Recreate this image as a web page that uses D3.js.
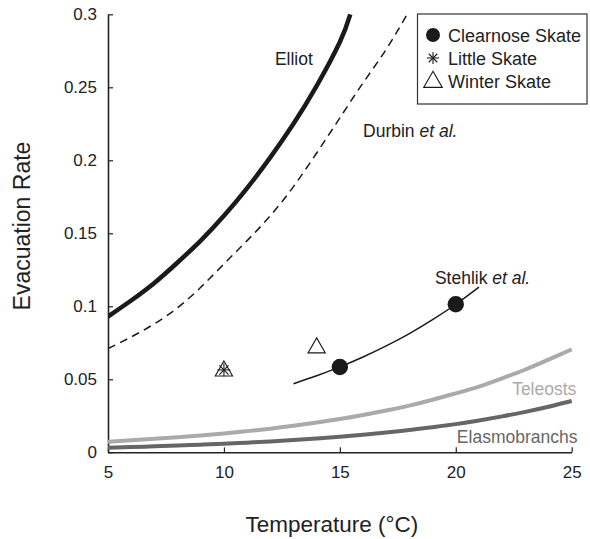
<!DOCTYPE html>
<html>
<head>
<meta charset="utf-8">
<script src="https://cdn.jsdelivr.net/npm/d3@7"></script>
<style>
  body { margin: 0; background: #fff; }
  svg text { font-family: "Liberation Sans", Arial, sans-serif; fill: #222; }
</style>
</head>
<body>
<div id="chart"></div>
<script>
// model curves, values
const elliotT = [5, 6, 7, 8, 9, 10, 11, 12, 13, 14, 15, 15.45];
const elliotR = [0.093, 0.104, 0.116, 0.130, 0.145, 0.162, 0.181, 0.202, 0.225, 0.251, 0.281, 0.300];

const durbinT = [5, 6, 7, 8, 9, 10, 11, 12, 13, 14, 15, 16, 17, 17.9];
const durbinR = [0.071, 0.079, 0.088, 0.099, 0.113, 0.129, 0.145, 0.162, 0.182, 0.205, 0.229, 0.253, 0.276, 0.300];

const stehlikT = [13, 14, 15, 16, 17, 18, 19, 20, 21];
const stehlikR = [0.047, 0.0524, 0.0585, 0.0653, 0.0729, 0.0813, 0.0908, 0.1014, 0.1132];

const groupT = [5, 6, 7, 8, 9, 10, 11, 12, 13, 14, 15, 16, 17, 18, 19, 20, 21, 22, 23, 24, 25];
const teleostR = [0.0073, 0.0082, 0.0092, 0.0103, 0.0115, 0.0129, 0.0145, 0.0162, 0.0182, 0.0204, 0.0228,
                  0.0256, 0.0286, 0.0320, 0.0360, 0.0404, 0.0450, 0.0506, 0.0567, 0.0635, 0.0705];
const elasmoR = [0.0032, 0.0036, 0.0041, 0.0046, 0.0052, 0.0058, 0.0066, 0.0074, 0.0084, 0.0094, 0.0106,
                 0.0120, 0.0135, 0.0152, 0.0172, 0.0193, 0.0218, 0.0246, 0.0277, 0.0312, 0.0351];

// observed points
const clearnoseT = [15, 20];
const clearnoseR = [0.0584, 0.1014];
const littleT = [10];
const littleR = [0.0564];
const winterT = [10, 14];
const winterR = [0.0564, 0.0722];

const xTicks = [5, 10, 15, 20, 25];
const yTicks = [0, 0.05, 0.1, 0.15, 0.2, 0.25, 0.3];
const legendNames = ['Clearnose Skate', 'Little Skate', 'Winter Skate'];

const outerWidth = 590;
const outerHeight = 539;
const margin = { top: 14.3, left: 108, right: 18.3, bottom: 86.7 };
const width = outerWidth - margin.left - margin.right;
const height = outerHeight - margin.top - margin.bottom;

const svg = d3.select('#chart').append('svg')
    .attr('width', outerWidth)
    .attr('height', outerHeight);

const g = svg.append('g')
    .attr('transform', `translate(${margin.left}, ${margin.top})`);

const x = d3.scaleLinear().domain([5, 25]).range([0, width]);
const y = d3.scaleLinear().domain([0, 0.3]).range([height, 0]);

g.append('clipPath').attr('id', 'plot-clip')
    .append('rect').attr('x', 0).attr('y', -2).attr('width', width + 2).attr('height', height + 2);

// axes, ticks pointing inward
const xAxis = d3.axisBottom(x).tickValues(xTicks).tickSize(-5).tickPadding(10).tickSizeOuter(0)
    .tickFormat(d3.format('d'));
const yAxis = d3.axisLeft(y).tickValues(yTicks).tickSize(-5).tickPadding(11).tickSizeOuter(0)
    .tickFormat(d => d === 0 ? '0' : String(d));

const gx = g.append('g').attr('transform', `translate(0, ${height})`).call(xAxis);
const gy = g.append('g').call(yAxis);

[gx, gy].forEach(ax => {
    ax.select('.domain').attr('stroke', '#222').attr('stroke-width', 1.6);
    ax.selectAll('.tick line').attr('stroke', '#222').attr('stroke-width', 1.2);
    ax.selectAll('.tick text')
        .style('font-family', '"Liberation Sans", Arial, sans-serif')
        .style('font-size', '17px').attr('fill', '#222');
});
gx.selectAll('.tick text').attr('dy', '0.9em');

// axis titles
svg.append('text')
    .attr('x', margin.left + width / 2 - 8)
    .attr('y', 532)
    .attr('text-anchor', 'middle')
    .style('font-size', '22.5px')
    .text('Temperature (°C)');
svg.append('text')
    .attr('transform', `translate(30, 226) rotate(-90)`)
    .attr('text-anchor', 'middle')
    .style('font-size', '23px')
    .text('Evacuation Rate');

const line = d3.line().x(d => x(d[0])).y(d => y(d[1])).curve(d3.curveNatural);
const zip = (a, b) => a.map((v, i) => [v, b[i]]);

const curves = g.append('g').attr('clip-path', 'url(#plot-clip)');

curves.append('path').datum(zip(groupT, teleostR))
    .attr('d', line).attr('fill', 'none').attr('stroke', '#aaaaaa').attr('stroke-width', 4);
curves.append('path').datum(zip(groupT, elasmoR))
    .attr('d', line).attr('fill', 'none').attr('stroke', '#666666').attr('stroke-width', 4);
curves.append('path').datum(zip(elliotT, elliotR))
    .attr('d', line).attr('fill', 'none').attr('stroke', '#1a1a1a').attr('stroke-width', 4.5);
curves.append('path').datum(zip(durbinT, durbinR))
    .attr('d', line).attr('fill', 'none').attr('stroke', '#1a1a1a').attr('stroke-width', 1.5)
    .attr('stroke-dasharray', '8,5.5');
curves.append('path').datum(zip(stehlikT, stehlikR))
    .attr('d', line).attr('fill', 'none').attr('stroke', '#1a1a1a').attr('stroke-width', 1.5);

// markers
const triangle = d3.symbol().type(d3.symbolTriangle).size(130);
function star(sel, cx, cy, r) {
    const s = sel.append('g').attr('transform', `translate(${cx}, ${cy})`)
        .attr('stroke', '#1a1a1a').attr('stroke-width', 1.1);
    [0, 45, 90, 135].forEach(a => {
        const rad = a * Math.PI / 180;
        s.append('line')
            .attr('x1', -r * Math.cos(rad)).attr('y1', -r * Math.sin(rad))
            .attr('x2', r * Math.cos(rad)).attr('y2', r * Math.sin(rad));
    });
}

winterT.forEach((t, i) => {
    g.append('path').attr('d', triangle)
        .attr('transform', `translate(${x(t)}, ${y(winterR[i]) + 1})`)
        .attr('fill', 'none').attr('stroke', '#1a1a1a').attr('stroke-width', 1.1);
});
littleT.forEach((t, i) => star(g, x(t), y(littleR[i]), 6.5));
clearnoseT.forEach((t, i) => {
    g.append('circle').attr('cx', x(t)).attr('cy', y(clearnoseR[i])).attr('r', 8.2).attr('fill', '#1a1a1a');
});

// curve labels
const labels = g.append('g').style('font-size', '17.5px');
labels.append('text').attr('x', x(12.2)).attr('y', y(0.265)).text('Elliot');
const dl = labels.append('text').attr('x', x(16.0)).attr('y', y(0.216));
dl.append('tspan').text('Durbin ');
dl.append('tspan').style('font-style', 'italic').text('et al.');
const sl = labels.append('text').attr('x', x(19.1)).attr('y', y(0.115));
sl.append('tspan').text('Stehlik ');
sl.append('tspan').style('font-style', 'italic').text('et al.');
labels.append('text').attr('x', x(25.2)).attr('y', y(0.039)).attr('text-anchor', 'end')
    .style('fill', '#aaaaaa').text('Teleosts');
labels.append('text').attr('x', x(25.25)).attr('y', y(0.0064)).attr('text-anchor', 'end')
    .style('fill', '#666666').text('Elasmobranchs');

// legend
const legend = svg.append('g').attr('transform', 'translate(417.5, 14)');
legend.append('rect').attr('width', 169.5).attr('height', 90)
    .attr('fill', '#fff').attr('stroke', '#333').attr('stroke-width', 1.2);
legendNames.forEach((name, i) => {
    const cy = 21 + i * 23;
    if (i === 0) {
        legend.append('circle').attr('cx', 15.5).attr('cy', cy).attr('r', 7).attr('fill', '#1a1a1a');
    } else if (i === 1) {
        star(legend, 15.5, cy, 6);
    } else {
        legend.append('path').attr('d', d3.symbol().type(d3.symbolTriangle).size(150))
            .attr('transform', `translate(15.5, ${cy + 1})`)
            .attr('fill', 'none').attr('stroke', '#1a1a1a').attr('stroke-width', 1.1);
    }
    legend.append('text').attr('x', 30.5).attr('y', cy + 6.5)
        .style('font-size', '18px').text(name);
});
</script>
</body>
</html>
